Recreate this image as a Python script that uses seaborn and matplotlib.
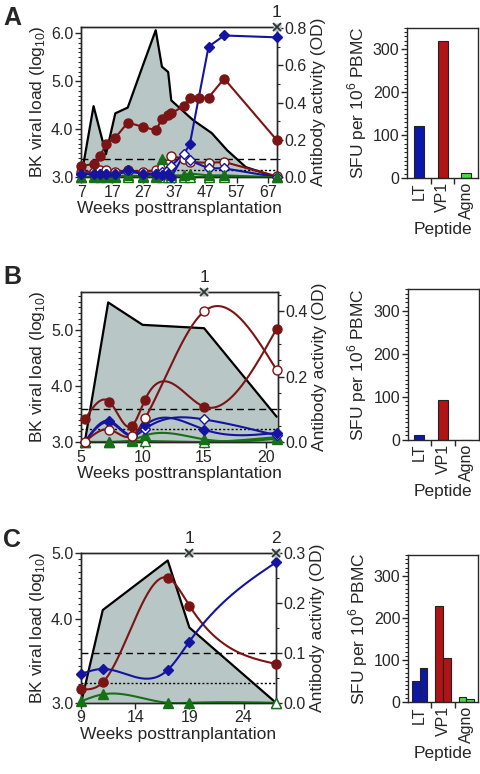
import numpy as np
import pandas as pd
import matplotlib
matplotlib.use("Agg")
import matplotlib.pyplot as plt
import seaborn as sns
from matplotlib.ticker import MultipleLocator, FixedLocator, FormatStrFormatter, NullFormatter, NullLocator

sns.set_style("ticks")
plt.rcParams['font.family'] = ['Liberation Sans', 'DejaVu Sans']
plt.rcParams['mathtext.fontset'] = 'custom'
plt.rcParams['mathtext.rm'] = 'Liberation Sans'
plt.rcParams['axes.linewidth'] = 1.0

RED = '#7b1414'
BLUE = '#1414a0'
GREEN = '#167016'
FILL = '#b8c7c5'
BAR_COLORS = ['#0c18a8', '#b01414', '#44dd44']
TICK_FS = 11.5
LABEL_FS = 12.5

# ---- Panel A data ----
a_vl_wk = [7, 11, 15, 18, 22, 27, 31, 33, 35, 36, 43, 49, 54, 60, 70]
a_vl = [3.0, 4.48, 3.48, 4.33, 4.45, 5.35, 6.06, 5.3, 5.19, 4.6, 4.19, 3.92, 3.56, 3.21, 3.0]
a_wk_red = [7, 11, 13, 15, 18, 22, 27, 31, 33, 35, 36, 40, 42, 45, 48, 53, 70]
a_vp1_fill = [0.059, 0.072, 0.112, 0.176, 0.212, 0.293, 0.27, 0.252, 0.31, 0.333, 0.342,
              0.382, 0.427, 0.425, 0.427, 0.529, 0.198]
a_wk_blue = [7, 11, 13, 15, 18, 22, 27, 31, 33, 35, 36, 42, 48, 53, 70]
a_lt_fill = [0.02, 0.02, 0.02, 0.015, 0.02, 0.04, 0.015, 0.015, 0.01, 0.015, 0.0, 0.18, 0.70, 0.76, 0.75]
a_wk_open = [7, 11, 13, 15, 18, 22, 27, 31, 33, 35, 36, 40, 42, 48, 53, 70]
a_lt_open = [0.02, 0.015, 0.02, 0.02, 0.015, 0.03, 0.02, 0.02, 0.03, 0.04, 0.06, 0.127, 0.09,
             0.048, 0.048, 0.0]
a_vp1_open = [0.03, 0.03, 0.037, 0.04, 0.03, 0.037, 0.03, 0.037, 0.055, 0.073, 0.113, 0.1, 0.082,
              0.077, 0.082, 0.005]
a_agno_fill = [0.0, 0.005, 0.005, 0.005, 0.005, 0.01, 0.005, 0.005, 0.1, 0.02, 0.01, 0.01, 0.02,
               0.01, 0.01, 0.0]
a_agno_open = [0.0, 0.0, 0.0, 0.0, 0.0, 0.0, 0.0, 0.0, 0.0, 0.0, 0.0, 0.0, 0.0, 0.0, 0.0, 0.0]
a_marks = [70]
a_mark_labels = ["1"]
a_xticks = [7, 17, 27, 37, 47, 57, 67]

# ---- Panel B data ----
b_vl_wk = [5.3, 7.2, 10.0, 15.0, 20.9]
b_vl = [3.0, 5.49, 5.09, 5.03, 3.45]
b_wk = [5.3, 7.3, 9.1, 10.2, 15.0, 20.9]
b_vp1_fill = [0.069, 0.123, 0.048, 0.13, 0.108, 0.347]
b_vp1_open = [0.0, 0.038, 0.018, 0.072, 0.40, 0.22]
b_lt_fill = [0.0, 0.065, 0.022, 0.051, 0.038, 0.028]
b_lt_open = [0.0, 0.06, 0.018, 0.04, 0.069, 0.02]
b_agno_fill = [0.0, 0.0, 0.005, 0.02, 0.008, 0.01]
b_agno_open = [0.0, 0.0, 0.003, 0.003, 0.0, 0.015]
b_marks = [15]
b_mark_labels = ["1"]
b_xticks = [5, 10, 15, 20]

# ---- Panel C data ----
c_vl_wk = [9, 11, 17, 19, 27]
c_vl = [3.0, 4.12, 4.88, 3.88, 3.0]
c_wk = [9, 11, 17, 19, 27]
c_vp1_fill = [0.027, 0.041, 0.251, 0.195, 0.078]
c_lt_fill = [0.058, 0.068, 0.066, 0.123, 0.282]
c_agno_fill = [0.003, 0.017, 0.0, 0.0, 0.0]
c_marks = [19, 27]
c_mark_labels = ["1", "2"]
c_xticks = [9, 14, 19, 24]

# ---- ELISpot bars ----
peptides = ["LT", "VP1", "Agno"]
a_sfu = [121, 319, 12]
b_sfu = [10, 92, 0]
c_sfu_1 = [50, 228, 11]
c_sfu_2 = [80, 105, 7]


def spline(x, y, n=200):
    # natural cubic spline, only used to draw the smoothed connecting lines
    x = np.asarray(x, float)
    y = np.asarray(y, float)
    k = len(x)
    h = np.diff(x)
    A = np.zeros((k, k))
    r = np.zeros(k)
    A[0, 0] = A[-1, -1] = 1
    for i in range(1, k - 1):
        A[i, i - 1] = h[i - 1]
        A[i, i] = 2 * (h[i - 1] + h[i])
        A[i, i + 1] = h[i]
        r[i] = 3 * ((y[i + 1] - y[i]) / h[i] - (y[i] - y[i - 1]) / h[i - 1])
    c = np.linalg.solve(A, r)
    b = (y[1:] - y[:-1]) / h - h * (2 * c[:-1] + c[1:]) / 3
    d = (c[1:] - c[:-1]) / (3 * h)
    xs = np.linspace(x[0], x[-1], n)
    i = np.clip(np.searchsorted(x, xs) - 1, 0, k - 2)
    t = xs - x[i]
    return xs, y[i] + b[i] * t + c[i] * t ** 2 + d[i] * t ** 3


fig = plt.figure(figsize=(4.8, 7.74), dpi=100)


def line_panel(rect, vl_wk, vl, series, xlim, xticks, ylim_l, ylim_r, r_major, r_minor,
               marks, mark_labels, smooth, xlabel, log_left=False):
    ax = fig.add_axes(rect)
    if log_left:
        ax.set_yscale('log')
    ax.fill_between(vl_wk, vl, ylim_l[0], color=FILL, lw=0)
    sns.lineplot(x=vl_wk, y=vl, ax=ax, color='black', lw=1.6, estimator=None, sort=False)
    ax.set_xlim(xlim)
    ax.set_ylim(ylim_l)
    ax.set_xticks(xticks)
    ax.yaxis.set_major_locator(FixedLocator([3, 4, 5, 6]))
    ax.yaxis.set_major_formatter(FormatStrFormatter('%.1f'))
    ax.yaxis.set_minor_locator(FixedLocator(np.arange(3.0, 6.1, 0.1)))
    ax.yaxis.set_minor_formatter(NullFormatter())
    ax.xaxis.set_minor_locator(NullLocator())
    ax.tick_params(axis='both', which='major', labelsize=TICK_FS, length=4, width=1, pad=1.5)
    ax.tick_params(axis='y', which='minor', length=2, width=0.8)
    ax.set_ylabel('BK viral load (log$_{10}$)', fontsize=LABEL_FS, labelpad=3)
    ax.set_xlabel(xlabel, fontsize=LABEL_FS, labelpad=1)

    ax2 = ax.twinx()
    ax2.axhline(0.1, color='black', lw=1, ls=(0, (5, 3)))
    ax2.axhline(0.04, color='black', lw=1, ls=(0, (1.5, 1.5)))
    for wk, vals, color, marker, filled in series:
        if smooth:
            xs, ys = spline(wk, vals)
        else:
            xs, ys = wk, vals
        sns.lineplot(x=xs, y=ys, ax=ax2, color=color, lw=1.5, estimator=None, sort=False)
        ms = 5.5 if marker == 'D' else 6.5
        ax2.plot(wk, vals, ls='none', marker=marker, ms=ms, mfc=color if filled else 'white',
                 mec=color, mew=1, clip_on=False, zorder=4)
    top = ylim_r[1]
    ax2.plot(marks, [top] * len(marks), ls='none', marker='s', ms=6, mfc='#b8c8c8', mec='none',
             clip_on=False, zorder=5)
    ax2.plot(marks, [top] * len(marks), ls='none', marker='x', ms=6, mec='#333333', mew=1.3,
             clip_on=False, zorder=6)
    for m, lbl in zip(marks, mark_labels):
        ax2.annotate(lbl, (m, top), xytext=(0, 5), textcoords='offset points',
                     ha='center', va='bottom', fontsize=LABEL_FS)
    ax2.set_ylim(ylim_r)
    ax2.yaxis.set_major_locator(MultipleLocator(r_major))
    ax2.yaxis.set_minor_locator(MultipleLocator(r_minor))
    ax2.yaxis.set_major_formatter(FormatStrFormatter('%.1f'))
    ax2.tick_params(axis='y', which='major', labelsize=TICK_FS, length=4, width=1, pad=1.5)
    ax2.tick_params(axis='y', which='minor', length=2, width=0.8)
    ax2.set_ylabel('Antibody activity (OD)', fontsize=LABEL_FS, labelpad=3)
    for s in ax2.spines.values():
        s.set_visible(True)
    return ax, ax2


def bar_panel(rect, frame, hue, width):
    ax = fig.add_axes(rect)
    sns.barplot(data=frame, x='peptide', y='sfu', hue=hue, ax=ax, width=width,
                palette=BAR_COLORS if hue == 'peptide' else ['#888888', '#888888'],
                edgecolor='#222222', linewidth=0.8, legend=False, dodge=(hue != 'peptide'))
    for p in ax.patches:
        idx = int(round(p.get_x() + p.get_width() / 2))
        p.set_facecolor(BAR_COLORS[idx])
    ax.set_xlim(-0.5, 2.5)
    ax.set_ylim(0, 350)
    ax.yaxis.set_major_locator(MultipleLocator(100))
    ax.yaxis.set_minor_locator(MultipleLocator(10))
    ax.xaxis.set_minor_locator(FixedLocator([0.5, 1.5]))
    ax.tick_params(axis='y', which='major', labelsize=TICK_FS, length=4, width=1, pad=1.5)
    ax.tick_params(axis='y', which='minor', length=2, width=0.8)
    ax.tick_params(axis='x', which='major', length=0, labelsize=TICK_FS, labelrotation=90, pad=3)
    ax.tick_params(axis='x', which='minor', length=4, width=1)
    ax.set_ylabel('SFU per 10$^6$ PBMC', fontsize=LABEL_FS, labelpad=3)
    ax.set_xlabel('Peptide', fontsize=LABEL_FS, labelpad=2)
    for s in ax.spines.values():
        s.set_visible(True)
    return ax


# Panel A
line_panel([0.169, 0.771, 0.408, 0.194], a_vl_wk, a_vl,
           [(a_wk_open, a_agno_open, GREEN, '^', False),
            (a_wk_open, a_vp1_open, RED, 'o', False),
            (a_wk_open, a_lt_open, BLUE, 'D', False),
            (a_wk_open, a_agno_fill, GREEN, '^', True),
            (a_wk_red, a_vp1_fill, RED, 'o', True),
            (a_wk_blue, a_lt_fill, BLUE, 'D', True)],
           (7, 70), a_xticks, (3.0, 6.125), (0, 0.805), 0.2, 0.1,
           a_marks, a_mark_labels, False, 'Weeks posttransplantation')
bar_panel([0.848, 0.770, 0.148, 0.194],
          pd.DataFrame({'peptide': peptides, 'sfu': a_sfu}), 'peptide', 0.42)

# Panel B
line_panel([0.169, 0.429, 0.410, 0.194], b_vl_wk, b_vl,
           [(b_wk, b_agno_open, GREEN, '^', False),
            (b_wk, b_agno_fill, GREEN, '^', True),
            (b_wk, b_lt_open, BLUE, 'D', False),
            (b_wk, b_lt_fill, BLUE, 'D', True),
            (b_wk, b_vp1_open, RED, 'o', False),
            (b_wk, b_vp1_fill, RED, 'o', True)],
           (5, 21), b_xticks, (3.0, 5.68), (0, 0.46), 0.2, 0.05,
           b_marks, b_mark_labels, True, 'Weeks posttransplantation')
bar_panel([0.849, 0.432, 0.148, 0.194],
          pd.DataFrame({'peptide': peptides, 'sfu': b_sfu}), 'peptide', 0.42)

# Panel C
axc, axc2 = line_panel([0.169, 0.092, 0.406, 0.193], c_vl_wk, c_vl,
                       [(c_wk, c_agno_fill, GREEN, '^', True),
                        (c_wk, c_vp1_fill, RED, 'o', True),
                        (c_wk, c_lt_fill, BLUE, 'D', True)],
                       (9, 27), c_xticks, (3.0, 5.0), (0, 0.3), 0.1, 0.05,
                       c_marks, c_mark_labels, True, 'Weeks posttranplantation', log_left=True)
# last Agno sample drawn as open triangle
axc2.plot(c_wk[-1:], c_agno_fill[-1:], ls='none', marker='^', ms=6.5, mfc='white', mec=GREEN,
          mew=1, clip_on=False, zorder=5)
bar_panel([0.85, 0.093, 0.146, 0.19],
          pd.DataFrame({'peptide': peptides * 2, 'sfu': c_sfu_1 + c_sfu_2,
                        'rep': ['1'] * 3 + ['2'] * 3}), 'rep', 0.65)

for lbl, y in [('A', 0.992), ('B', 0.657), ('C', 0.318)]:
    fig.text(0.006, y, lbl, fontsize=18, fontweight='bold', va='top', ha='left')

fig.savefig('out.png', dpi=100)
